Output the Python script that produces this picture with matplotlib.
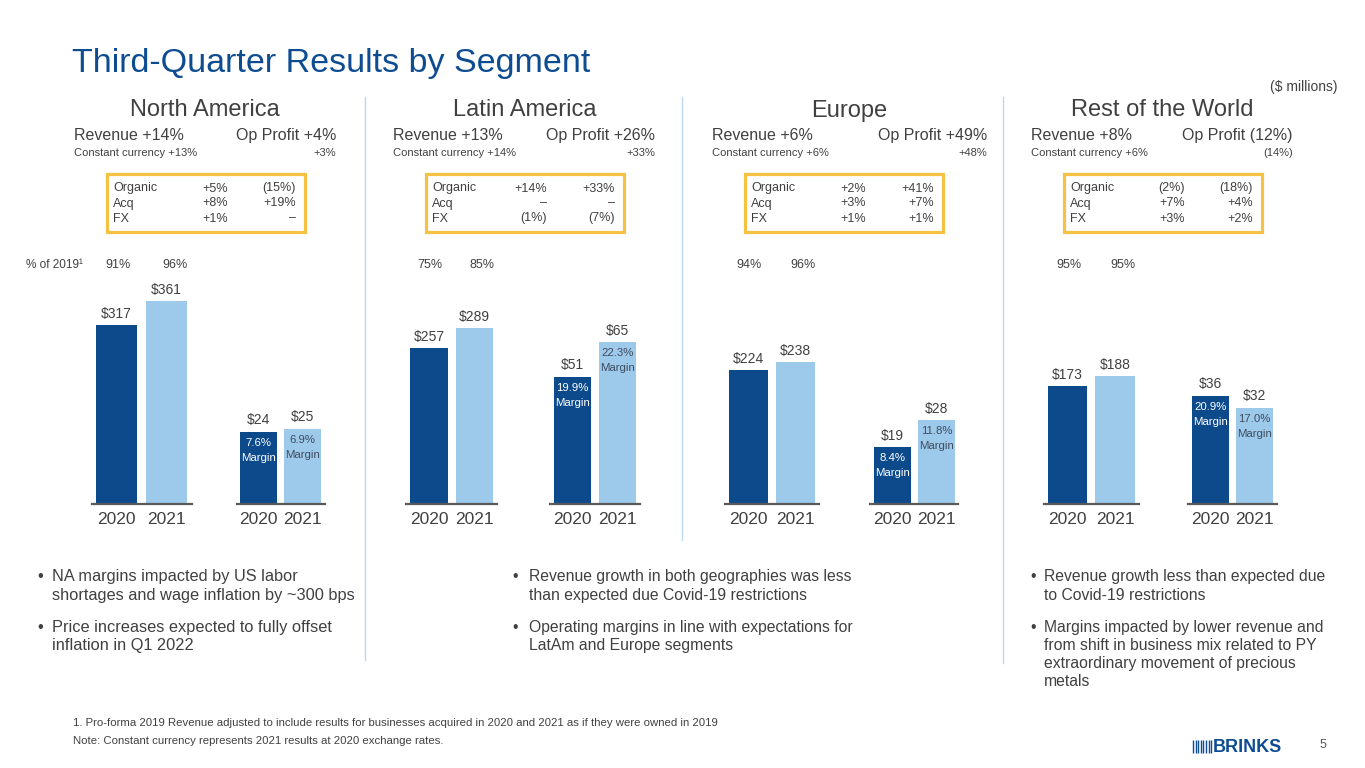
import matplotlib
matplotlib.use('Agg')
import matplotlib.pyplot as plt
from matplotlib.patches import Rectangle
from matplotlib.transforms import blended_transform_factory

plt.rcParams['font.family'] = ['Liberation Sans', 'DejaVu Sans']

# ---- data ----
regions = ['North America', 'Latin America', 'Europe', 'Rest of the World']
years = ['2020', '2021']
revenue_2020 = [317, 257, 224, 173]
revenue_2021 = [361, 289, 238, 188]
profit_2020 = [24, 51, 19, 36]
profit_2021 = [25, 65, 28, 32]
margin_2020 = ['7.6%', '19.9%', '8.4%', '20.9%']
margin_2021 = ['6.9%', '22.3%', '11.8%', '17.0%']
pct_2019_2020 = ['91%', '75%', '94%', '95%']
pct_2019_2021 = ['96%', '85%', '96%', '95%']
rev_growth = ['+14%', '+13%', '+6%', '+8%']
op_growth = ['+4%', '+26%', '+49%', '(12%)']
cc_rev = ['+13%', '+14%', '+6%', '+6%']
cc_op = ['+3%', '+33%', '+48%', '(14%)']
bridge_rows = ['Organic', 'Acq', 'FX']
bridge_rev = [['+5%', '+8%', '+1%'],
              ['+14%', '–', '(1%)'],
              ['+2%', '+3%', '+1%'],
              ['(2%)', '+7%', '+3%']]
bridge_op = [['(15%)', '+19%', '–'],
             ['+33%', '–', '(7%)'],
             ['+41%', '+7%', '+1%'],
             ['(18%)', '+4%', '+2%']]
bullets_na = [['NA margins impacted by US labor', 'shortages and wage inflation by ~300 bps'],
              ['Price increases expected to fully offset', 'inflation in Q1 2022']]
bullets_mid = [['Revenue growth in both geographies was less', 'than expected due Covid-19 restrictions'],
               ['Operating margins in line with expectations for', 'LatAm and Europe segments']]
bullets_row = [['Revenue growth less than expected due', 'to Covid-19 restrictions'],
               ['Margins impacted by lower revenue and', 'from shift in business mix related to PY',
                'extraordinary movement of precious', 'metals']]
footnotes = ['1. Pro-forma 2019 Revenue adjusted to include results for businesses acquired in 2020 and 2021 as if they were owned in 2019',
             'Note: Constant currency represents 2021 results at 2020 exchange rates.']

# ---- layout / style ----
W, H = 1365, 768
DARK = '#0D4A8C'
LIGHT = '#9DC9EB'
TXT = '#404040'
BLUE_T = '#0E4C92'
YELLOW = '#F6C243'
SEP = '#BDD7EE'

off = [0, 319, 638, 957]           # horizontal offset of each panel
op_right = [336, 655, 987, 1293]   # right edge of "Op Profit" text
head_x = [205, 525, 849, 1162]
rev_left = [91.5, 406.25, 725, 1043.75]
rev_step = [50, 45.5, 47, 47.5]
prof_left = [236.5, 550, 870.5, 1188]
prof_step = [44, 45, 44, 44.5]
rev_ymax = [398, 369, 376, 329]
prof_ymax = [74.5, 89.8, 75, 74.5]
AX_TOP, AX_BOT = 280, 503.5

fig = plt.figure(figsize=(W / 100, H / 100), dpi=100)
bg = fig.add_axes([0, 0, 1, 1])
bg.set_xlim(0, W)
bg.set_ylim(H, 0)
bg.axis('off')


def px_axes(left, top, width, height):
    return fig.add_axes([left / W, 1 - (top + height) / H, width / W, height / H])


def bar_pair(left, step, ymax, vals, margins=None):
    ax = px_axes(left, AX_TOP, 2 * step, AX_BOT - AX_TOP)
    ax.patch.set_visible(False)
    ax.bar([0, 1], vals, width=0.83, color=[DARK, LIGHT])
    ax.set_xlim(-0.5, 1.5)
    ax.set_ylim(0, ymax)
    for s in ['top', 'left', 'right']:
        ax.spines[s].set_visible(False)
    ax.spines['bottom'].set_color('#595959')
    ax.spines['bottom'].set_linewidth(1.6)
    ax.set_yticks([])
    ax.set_xticks([0, 1], years)
    ax.tick_params(axis='x', length=0, pad=6, labelsize=12.5, labelcolor=TXT)
    for i, v in enumerate(vals):
        ax.annotate(f'${v}', (i, v), xytext=(0, 3), textcoords='offset points',
                    ha='center', va='bottom', fontsize=10, color=TXT)
        if margins:
            ax.annotate(f'{margins[i]}\nMargin', (i, v), xytext=(0, -4.5), textcoords='offset points',
                        ha='center', va='top', fontsize=8.2, linespacing=1.6,
                        color='white' if i == 0 else '#3F4D5F')
    return ax


# title
bg.text(72, 72, 'Third-Quarter Results by Segment', fontsize=24.5, color=BLUE_T, va='baseline')
bg.text(1337, 87, '($ millions)', fontsize=10, color=TXT, ha='right', va='center')

# separators
for x, y1 in zip([365, 682, 1003], [660, 540, 663]):
    bg.plot([x, x], [97, y1], color=SEP, lw=1)

for k in range(4):
    o = off[k]
    bg.text(head_x[k], 116.5, regions[k], fontsize=17, color=TXT, ha='center', va='baseline')
    bg.text(74 + o, 140, f'Revenue {rev_growth[k]}', fontsize=11.5, color=TXT, va='baseline')
    bg.text(op_right[k], 140, f'Op Profit {op_growth[k]}', fontsize=11.5, color=TXT, ha='right', va='baseline')
    bg.text(74 + o, 156.5, f'Constant currency {cc_rev[k]}', fontsize=8, color=TXT, va='baseline')
    bg.text(op_right[k], 156.5, cc_op[k], fontsize=8, color=TXT, ha='right', va='baseline')

    bg.add_patch(Rectangle((107 + o, 173.5), 198, 58, fill=False, edgecolor=YELLOW, lw=2.3))
    for r, name in enumerate(bridge_rows):
        y = 191.5 + 15 * r
        bg.text(113 + o, y, name, fontsize=9, color=TXT, va='baseline')
        bg.text(228 + o, y, bridge_rev[k][r], fontsize=9, color=TXT, ha='right', va='baseline')
        bg.text(296 + o, y, bridge_op[k][r], fontsize=9, color=TXT, ha='right', va='baseline')

    ax_r = bar_pair(rev_left[k], rev_step[k], rev_ymax[k], [revenue_2020[k], revenue_2021[k]])
    bar_pair(prof_left[k], prof_step[k], prof_ymax[k], [profit_2020[k], profit_2021[k]],
             [margin_2020[k], margin_2021[k]])

    tr = blended_transform_factory(ax_r.transData, bg.transData)
    bg.text(0.02, 265, pct_2019_2020[k], transform=tr, fontsize=9, color=TXT, ha='center', va='center')
    bg.text(1.17, 265, pct_2019_2021[k], transform=tr, fontsize=9, color=TXT, ha='center', va='center')

bg.text(26, 265, '% of 2019¹', fontsize=8.5, color=TXT, va='center')

# bullets
for blist, xd, xt, fs in [(bullets_na, 37, 52, 11.8), (bullets_mid, 512, 529, 11.3),
                          (bullets_row, 1030, 1044, 11.3)]:
    y = 577
    for para in blist:
        bg.text(xd, y, '•', fontsize=fs, color=TXT, va='center')
        for line in para:
            bg.text(xt, y, line, fontsize=fs, color=TXT, va='center')
            y += 18.3
        y += 13.5

# footnotes
for i, line in enumerate(footnotes):
    bg.text(73, 723 + 18 * i, line, fontsize=8.2, color=TXT, va='center')

# logo + page number
bg.vlines([1193 + 2.6 * j for j in range(8)], 740, 753, color=BLUE_T, lw=1)
bg.text(1213, 747, 'BRINKS', fontsize=13, fontweight='bold', color=BLUE_T, va='center')
bg.text(1320, 745, '5', fontsize=9, color='#595959', va='center')

fig.savefig('out.png', dpi=100)
